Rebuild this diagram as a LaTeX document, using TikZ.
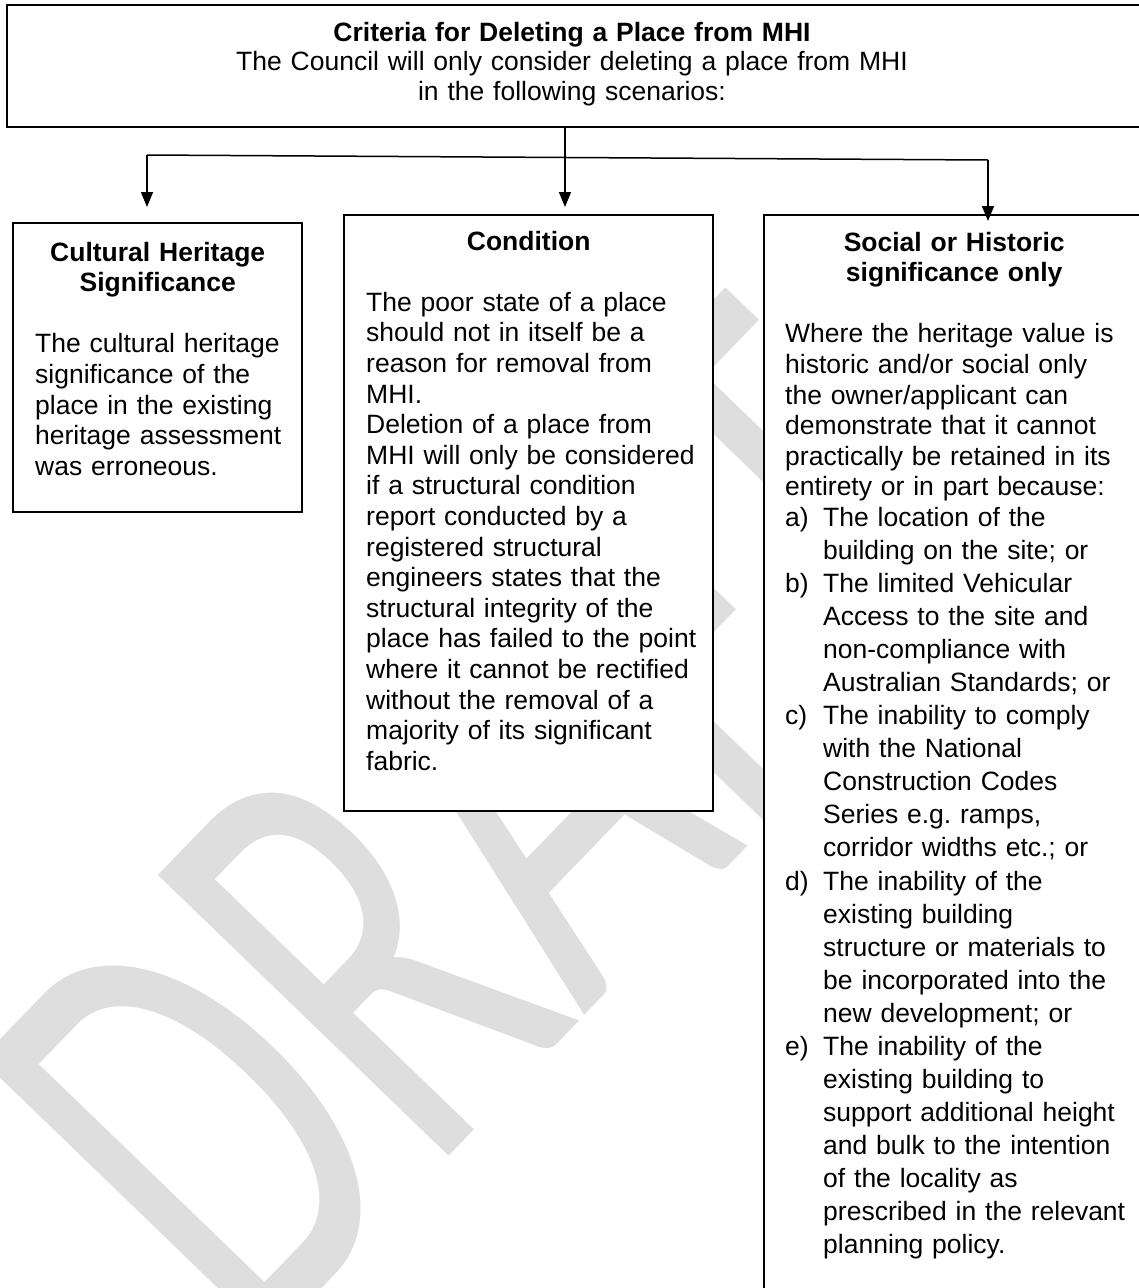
\documentclass[tikz,border=0pt]{standalone}
\usepackage{fontspec}
\setmainfont{Liberation Sans}
\newfontfamily\wmfont{Carlito}
\usetikzlibrary{arrows.meta}
\definecolor{wmgray}{RGB}{222,222,222}
\newcommand\wlabel[1]{\noindent\hangindent=38pt\hangafter=1\makebox[38pt][l]{#1}}
\newcommand\ttl[2]{\noindent\makebox[#1][c]{\bfseries #2}}
\begin{document}
\hyphenpenalty=10000 \exhyphenpenalty=10000
\begin{tikzpicture}[x=1pt,y=-1pt,
  box/.style={draw=black,line width=1.5pt,fill=white,rectangle,inner sep=0pt},
  txt/.style={inner sep=0pt,anchor=base west,align=left,font=\fontsize{26.5}{30.6}\selectfont},
  conn/.style={line width=1.5pt},
  arr/.style={conn,-{Triangle[length=15pt,width=12pt]}}]
\useasboundingbox (0,0) rectangle (1139,1288);
\clip (0,0) rectangle (1139,1288);
\fill[white] (0,0) rectangle (1139,1288);
% watermark
\node[text=wmgray,rotate=46,xscale=0.654,font=\wmfont\fontsize{630}{630}\selectfont,inner sep=0pt] (wm) at (491,822) {DRAFT};
% boxes
\node[box,minimum width=1138pt,minimum height=122pt] (top) at (576,66) {};
\node[box,minimum width=289pt,minimum height=289pt] (cul) at (157.5,367.5) {};
\node[box,minimum width=369pt,minimum height=596pt] (cond) at (528.5,513) {};
\node[box,minimum width=380pt,minimum height=1100pt] (soc) at (954,765) {};
% texts
\node[txt,anchor=base,text width=1000pt,align=center,font=\fontsize{26.5}{29.5}\selectfont] (topT) at (572,41)
  {\textbf{Criteria for Deleting a Place from MHI}\\The Council will only consider deleting a place from MHI\\in the following scenarios:};
\node[txt,text width=275pt] (culT) at (35,261)
  {\ttl{245pt}{Cultural Heritage}\\\ttl{245pt}{Significance}\par\vspace{30.6pt}The cultural heritage\\significance of the\\place in the existing\\heritage assessment\\was erroneous.};
\node[txt,text width=350pt] (condT) at (366,250)
  {\ttl{325pt}{Condition}\par\vspace{30.6pt}The poor state of a place\\should not in itself be a\\reason for removal from\\MHI.\\Deletion of a place from\\MHI will only be considered\\if a structural condition\\report conducted by a\\registered structural\\engineers states that the\\structural integrity of the\\place has failed to the point\\where it cannot be rectified\\without the removal of a\\majority of its significant\\fabric.};
\node[txt,text width=360pt] (socT) at (785,251)
  {\ttl{338pt}{Social or Historic}\\\ttl{338pt}{significance only}\par\vspace{30.6pt}Where the heritage value is\\historic and/or social only\\the owner/applicant can\\demonstrate that it cannot\\practically be retained in its\\entirety or in part because:\par
   \fontsize{26.5}{33.05}\selectfont\vspace{-2.4pt}%
   \wlabel{a)}The location of the\newline building on the site; or\par
   \wlabel{b)}The limited Vehicular\newline Access to the site and\newline non-compliance with\newline Australian Standards; or\par
   \wlabel{c)}The inability to comply\newline with the National\newline Construction Codes\newline Series e.g.\ ramps,\newline corridor widths etc.; or\par
   \wlabel{d)}The inability of the\newline existing building\newline structure or materials to\newline be incorporated into the\newline new development; or\par
   \wlabel{e)}The inability of the\newline existing building to\newline support additional height\newline and bulk to the intention\newline of the locality as\newline prescribed in the relevant\newline planning policy.\par};
% connectors
\coordinate (j) at (565,157.3);
\coordinate (hl) at (147,155);
\coordinate (hr) at (988,160);
\coordinate (tl) at (147,207);
\coordinate (tm) at (565,207);
\coordinate (tr) at (988,221);
\draw[conn] (hl) -- (hr);
\draw[arr] (top.south -| j) -- (tm);
\draw[arr] (hl) -- (tl);
\draw[arr] (hr) -- (tr);
\end{tikzpicture}
\end{document}
